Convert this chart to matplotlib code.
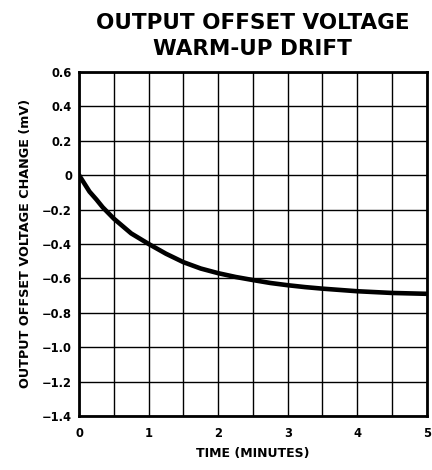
import matplotlib
matplotlib.use("Agg")
from matplotlib import pyplot as plt
from matplotlib.ticker import MultipleLocator

plt.rcParams['font.family'] = ['DejaVu Sans']
plt.rcParams['font.weight'] = 'bold'

# values
time_min = [0, 0.15, 0.25, 0.34, 0.5, 0.75, 1.0, 1.25, 1.5, 1.75, 2.0, 2.25, 2.5,
            2.75, 3.0, 3.25, 3.5, 4.0, 4.5, 5.0]
offset_mv = [0, -0.096, -0.142, -0.187, -0.253, -0.339, -0.40, -0.457, -0.506, -0.543,
             -0.57, -0.592, -0.61, -0.627, -0.64, -0.651, -0.66, -0.675, -0.685, -0.69]

y_ticks = [0.6, 0.4, 0.2, 0, -0.2, -0.4, -0.6, -0.8, -1.0, -1.2, -1.4]
y_labels = ['0.6', '0.4', '0.2', '0', '\u22120.2', '\u22120.4', '\u22120.6',
            '\u22120.8', '\u22121.0', '\u22121.2', '\u22121.4']
x_ticks = [0, 1, 2, 3, 4, 5]

fig = plt.figure(figsize=(4.32, 4.70), dpi=100)
ax = fig.add_axes([0.183, 0.115, 0.805, 0.732])

ax.plot(time_min, offset_mv, color='black', lw=3.3, solid_capstyle='round',
        solid_joinstyle='round')

ax.set_xlim(0, 5)
ax.set_ylim(-1.4, 0.6)
ax.set_xticks(x_ticks)
ax.set_xticklabels([str(t) for t in x_ticks])
ax.xaxis.set_minor_locator(MultipleLocator(0.5))
ax.set_yticks(y_ticks)
ax.set_yticklabels(y_labels)
ax.tick_params(which='both', length=0, labelsize=8.3)
ax.tick_params(axis='y', pad=5)
ax.tick_params(axis='x', pad=8)
ax.grid(True, which='both', color='black', lw=1.0)

for s in ax.spines.values():
    s.set_linewidth(2)

ax.set_xlabel('TIME (MINUTES)', fontsize=9, fontweight='bold', labelpad=5)
ax.set_ylabel('OUTPUT OFFSET VOLTAGE CHANGE (mV)', fontsize=9.2, fontweight='bold',
              labelpad=7)
ax.set_title('OUTPUT OFFSET VOLTAGE\nWARM-UP DRIFT', fontsize=15.5, fontweight='bold',
             linespacing=1.4, pad=12)

plt.savefig('out.png', dpi=100)
